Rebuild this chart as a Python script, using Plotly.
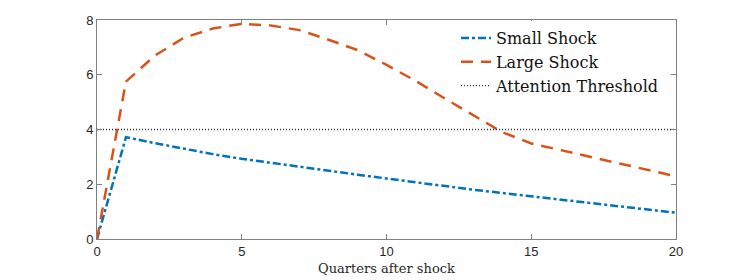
import plotly.graph_objects as go

quarters = list(range(0, 21))
small_shock = [0, 3.72, 3.50, 3.30, 3.10, 2.93, 2.78, 2.64, 2.49, 2.35, 2.21,
               2.07, 1.93, 1.80, 1.68, 1.56, 1.43, 1.31, 1.19, 1.07, 0.96]
large_shock = [0, 5.75, 6.70, 7.35, 7.69, 7.86, 7.80, 7.63, 7.28, 6.90, 6.36,
               5.78, 5.14, 4.53, 3.90, 3.49, 3.25, 3.00, 2.76, 2.51, 2.29]
threshold_x = [0, 20]
threshold_y = [4, 4]
x_ticks = [0, 5, 10, 15, 20]
y_ticks = [0, 2, 4, 6, 8]

fig = go.Figure()
fig.add_trace(go.Scatter(x=quarters, y=small_shock, mode="lines", name="Small Shock",
                         line=dict(color="#0072BD", width=2.5, dash="8px,3px,3px,3px")))
fig.add_trace(go.Scatter(x=quarters, y=large_shock, mode="lines", name="Large Shock",
                         line=dict(color="#D95319", width=2.5, dash="12px,8px")))
fig.add_trace(go.Scatter(x=threshold_x, y=threshold_y, mode="lines", name="Attention Threshold",
                         line=dict(color="#333333", width=1.3, dash="1px,2px")))

axis_common = dict(showgrid=False, zeroline=False, showline=True, linecolor="#808080",
                   linewidth=1, mirror="allticks", ticks="inside", ticklen=5, automargin=False,
                   tickcolor="#808080", tickfont=dict(family="Liberation Sans", size=13, color="#262626"))

fig.update_layout(
    width=747, height=280,
    margin=dict(l=89, r=79, t=12, b=49, autoexpand=False),
    paper_bgcolor="white", plot_bgcolor="white",
    xaxis=dict(range=[0, 20], tickvals=x_ticks, ticktext=[str(v) for v in x_ticks],
               title=dict(text="Quarters after shock", standoff=6,
                          font=dict(family="DejaVu Serif", size=13, color="#262626")),
               **axis_common),
    yaxis=dict(range=[0, 8], tickvals=y_ticks, ticktext=[str(v) for v in y_ticks], **axis_common),
    legend=dict(x=0.62, y=0.995, xanchor="left", yanchor="top", bgcolor="rgba(255,255,255,1)",
                borderwidth=0, font=dict(family="DejaVu Serif", size=16, color="#111111"),
                tracegroupgap=0),
    showlegend=True,
)

fig.write_html("out.html")
